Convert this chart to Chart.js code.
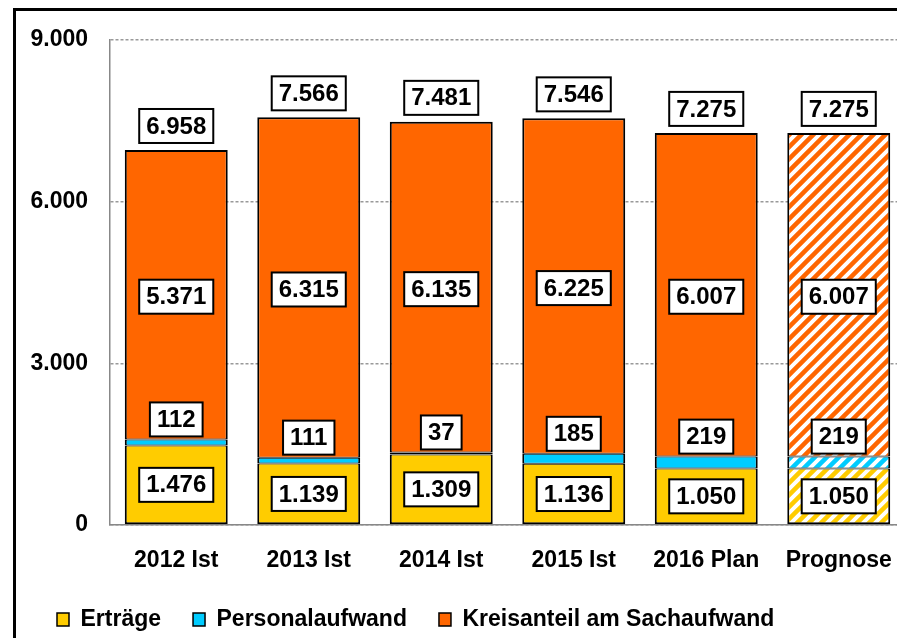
<!DOCTYPE html>
<html>
<head>
<meta charset="utf-8">
<script src="https://cdn.jsdelivr.net/npm/chart.js@4.4.0/dist/chart.umd.min.js"></script>
<style>
html, body { margin:0; padding:0; overflow:hidden; background:#fff; width:897px; height:638px; }
#rahmen { position:absolute; left:13px; top:8px; width:1000px; height:800px; border:3px solid #000; }
#box { position:absolute; left:0; top:0; width:915px; height:641px; }
</style>
</head>
<body>
<div id="rahmen"></div>
<div id="box"><canvas id="chart" width="915" height="641"></canvas></div>
<script>
// DATEN
const kategorien = ['2012 Ist', '2013 Ist', '2014 Ist', '2015 Ist', '2016 Plan', 'Prognose'];
const ertraege = [1476, 1139, 1309, 1136, 1050, 1050];
const personalaufwand = [112, 111, 37, 185, 219, 219];
const kreisanteil = [5371, 6315, 6135, 6225, 6007, 6007];
const summen = [6958, 7566, 7481, 7546, 7275, 7275];
const yTicks = [0, 3000, 6000, 9000];
const reihen = ['Erträge', 'Personalaufwand', 'Kreisanteil am Sachaufwand'];

const GELB = '#FFCC00';
const BLAU = '#00CCFF';
const ORANGE = '#FF6600';

// deutsche Tausenderpunkte
function fmt(n) {
    return String(n).replace(/\B(?=(\d{3})+(?!\d))/g, '.');
}

// schraffur fuer die Prognose
function schraffur(farbe) {
    const c = document.createElement('canvas');
    c.width = 12; c.height = 12;
    const g = c.getContext('2d');
    g.fillStyle = '#fff';
    g.fillRect(0, 0, 12, 12);
    g.strokeStyle = farbe;
    g.lineWidth = 4.5;
    g.beginPath();
    g.moveTo(-3, 15); g.lineTo(15, -3);
    g.moveTo(-3, 3); g.lineTo(3, -3);
    g.moveTo(9, 15); g.lineTo(15, 9);
    g.stroke();
    return g.createPattern(c, 'repeat');
}

function farben(farbe) {
    return kategorien.map((k, i) => i === kategorien.length - 1 ? schraffur(farbe) : farbe);
}

const FONT = '"Liberation Sans", Arial, sans-serif';
Chart.defaults.font.family = FONT;
Chart.defaults.font.size = 23;
Chart.defaults.font.weight = 'bold';
Chart.defaults.color = '#000';

// weisse kaestchen mit den werten
function kasten(ctx, text, x, yMitte) {
    ctx.font = 'bold 24px ' + FONT;
    const w = ctx.measureText(text).width + 14;
    const h = 34;
    ctx.fillStyle = '#fff';
    ctx.fillRect(x - w / 2, yMitte - h / 2, w, h);
    ctx.lineWidth = 2;
    ctx.strokeStyle = '#000';
    ctx.strokeRect(x - w / 2, yMitte - h / 2, w, h);
    ctx.fillStyle = '#000';
    ctx.textAlign = 'center';
    ctx.textBaseline = 'middle';
    ctx.fillText(text, x, yMitte + 1);
}

const wertePlugin = {
    id: 'werte',
    afterDatasetsDraw(chart) {
        const ctx = chart.ctx;
        const m0 = chart.getDatasetMeta(0).data;
        const m1 = chart.getDatasetMeta(1).data;
        const m2 = chart.getDatasetMeta(2).data;
        ctx.save();
        kategorien.forEach((k, i) => {
            kasten(ctx, fmt(ertraege[i]), m0[i].x, (m0[i].y + m0[i].base) / 2);
            kasten(ctx, fmt(kreisanteil[i]), m2[i].x, (m2[i].y + m2[i].base) / 2 + 2);
            kasten(ctx, fmt(personalaufwand[i]), m1[i].x, m1[i].y - 3 - 17);
            kasten(ctx, fmt(summen[i]), m2[i].x, m2[i].y - 7 - 17);
        });
        ctx.restore();
    }
};

function totalCharts(ctx) {
    const chart = new Chart(ctx, {
        type: 'bar',
        data: {
            labels: kategorien,
            datasets: [
                {
                    label: reihen[0],
                    data: ertraege,
                    backgroundColor: farben(GELB),
                    borderColor: '#000',
                    borderWidth: { top: 1, bottom: 2, left: 2, right: 2 },
                    borderSkipped: false
                },
                {
                    label: reihen[1],
                    data: personalaufwand,
                    backgroundColor: farben(BLAU),
                    borderColor: '#000',
                    borderWidth: { top: 1, bottom: 1, left: 2, right: 2 },
                    borderSkipped: false
                },
                {
                    label: reihen[2],
                    data: kreisanteil,
                    backgroundColor: farben(ORANGE),
                    borderColor: '#000',
                    borderWidth: { top: 2, bottom: 1, left: 2, right: 2 },
                    borderSkipped: false
                }
            ]
        },
        options: {
            responsive: false,
            animation: false,
            layout: { padding: { left: 25, right: 10, top: 40, bottom: 0 } },
            datasets: { bar: { categoryPercentage: 1, barPercentage: 0.777 } },
            plugins: {
                tooltip: { enabled: false },
                legend: {
                    position: 'bottom',
                    align: 'start',
                    labels: {
                        boxWidth: 12,
                        boxHeight: 13,
                        padding: 32,
                        font: { size: 23, weight: 'bold' },
                        generateLabels: () => reihen.map((r, i) => ({
                            text: r,
                            fillStyle: [GELB, BLAU, ORANGE][i],
                            strokeStyle: '#000',
                            lineWidth: 1.5,
                            hidden: false,
                            datasetIndex: i
                        }))
                    }
                }
            },
            scales: {
                x: {
                    stacked: true,
                    grid: { display: false },
                    border: { display: true, color: '#888', width: 1.5 },
                    ticks: { padding: 14, font: { size: 23, weight: 'bold' } },
                    afterFit: s => { s.height = 51; }
                },
                y: {
                    stacked: true,
                    min: 0,
                    max: 9000,
                    afterBuildTicks: s => { s.ticks = yTicks.map(v => ({ value: v })); },
                    grid: { color: '#999', lineWidth: 1.5, drawTicks: false },
                    border: { display: true, color: '#888', width: 1.5, dash: [3, 2] },
                    ticks: { padding: 22, callback: v => fmt(v), font: { size: 23, weight: 'bold' } },
                    afterFit: s => { s.width = 85; }
                }
            }
        },
        plugins: [wertePlugin]
    });
}

function renderCharts() {
    const ctx = document.querySelector('#chart').getContext('2d');
    totalCharts(ctx);
}
renderCharts();
</script>
</body>
</html>
